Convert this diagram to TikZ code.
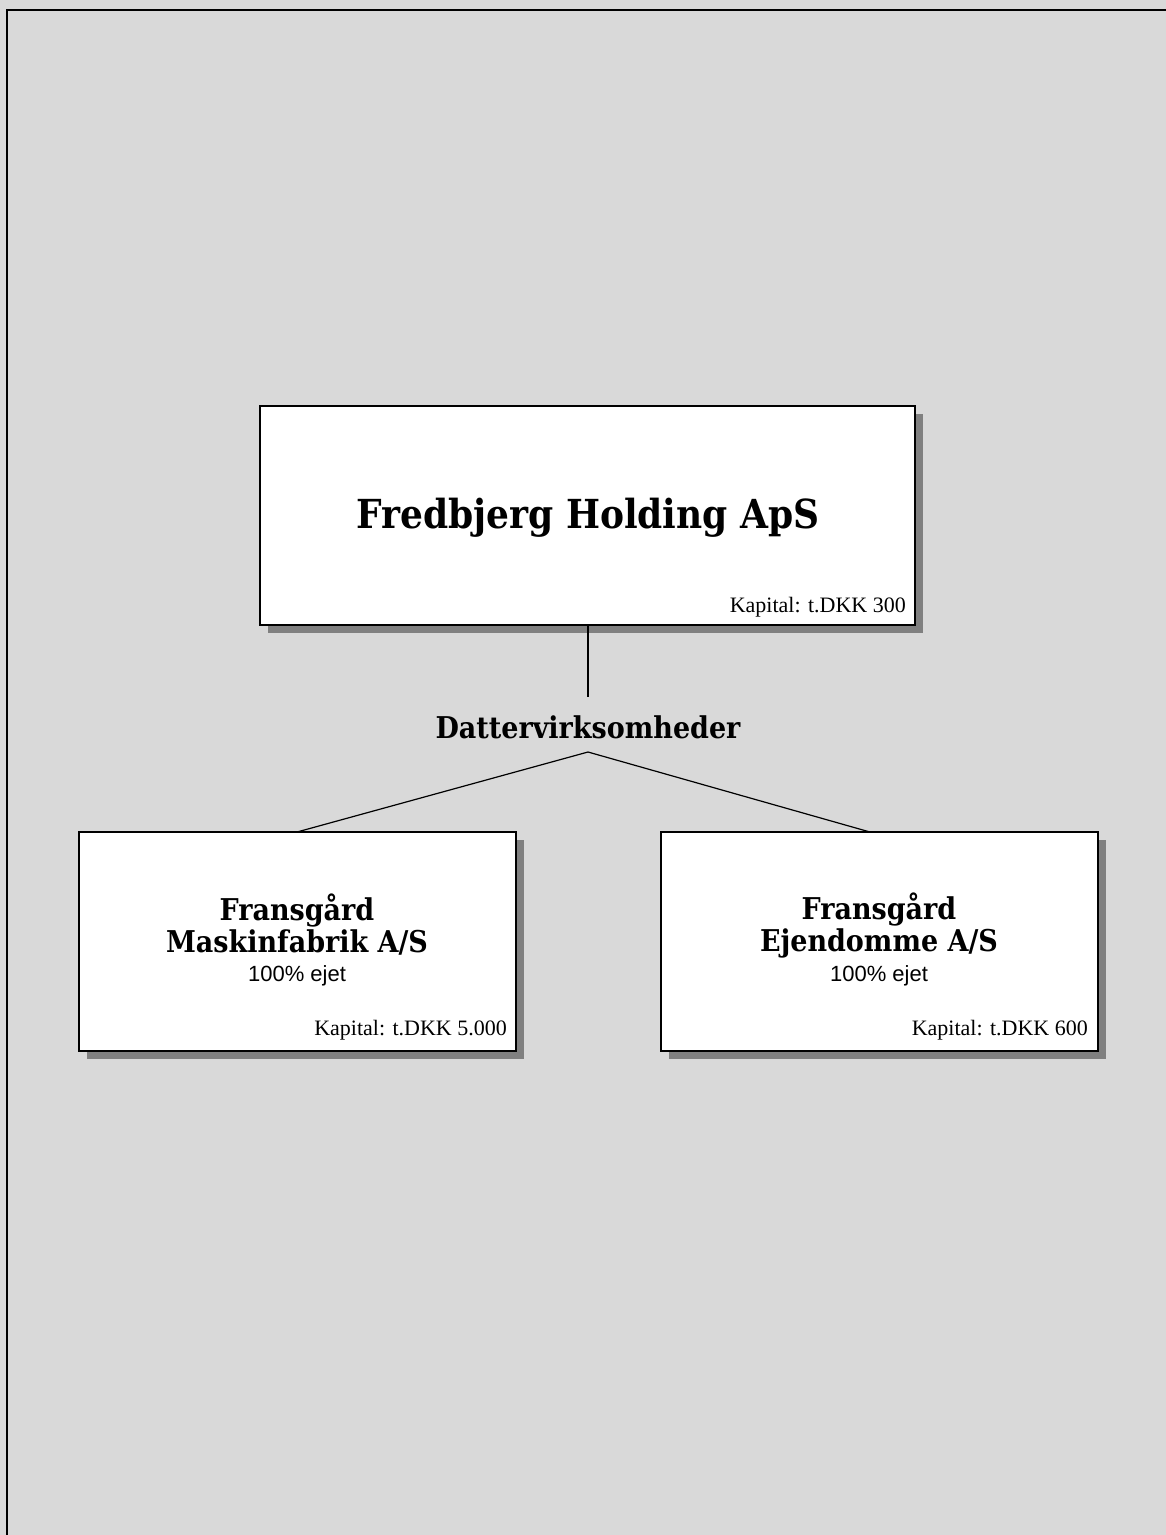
\documentclass[tikz,border=0pt]{standalone}
\usepackage{fontspec}
\setmainfont{Liberation Serif}
\newfontfamily\slabbold{DejaVu Serif Condensed}[BoldFont={DejaVu Serif Condensed Bold}]
\newfontfamily\lightsans{Liberation Sans}
\definecolor{bggray}{HTML}{D9D9D9}
\definecolor{shadowgray}{HTML}{808080}
\tikzset{
  company/.style={draw=black, line width=1.3pt, fill=white},
  title/.style={font=\slabbold\bfseries, align=center, inner sep=0pt},
  kapital/.style={font=\fontsize{22}{24}\selectfont, anchor=east, inner sep=0pt},
  owned/.style={font=\lightsans\fontsize{22}{24}\selectfont, inner sep=0pt},
  conn/.style={draw=black, line width=1.2pt}
}
\begin{document}
\begin{tikzpicture}[x=1pt,y=-1pt]
\useasboundingbox (0,0) rectangle (1166,1535);
\fill[bggray] (0,0) rectangle (1166,1535);
\draw[black, line width=2pt] (7,1535) -- (7,10) -- (1166,10);
% shadows
\fill[shadowgray] (268,414) rectangle (923,633);
\fill[shadowgray] (87,840) rectangle (524,1059);
\fill[shadowgray] (669,840) rectangle (1106,1059);
% boxes
\draw[company] (260,406) rectangle (915,625);
\draw[company] (79,832) rectangle (516,1051);
\draw[company] (661,832) rectangle (1098,1051);
\coordinate (top) at (588,625);
\coordinate (leftbox) at (297,832);
\coordinate (rightbox) at (870,832);
\coordinate (hubtop) at (588,697);
\coordinate (hub) at (588,752);
% texts
\node[title, font=\slabbold\bfseries\fontsize{40}{44}\selectfont] (holding) at (588,518) {Fredbjerg Holding ApS};
\node[kapital] (kap1) at (906,607) {Kapital: t.DKK 300};
\node[title, font=\slabbold\bfseries\fontsize{30}{32}\selectfont] (datter) at (588,727) {Dattervirksomheder};
\node[title, font=\slabbold\bfseries\fontsize{30}{32}\selectfont] (mask) at (297,925) {Fransgård\\Maskinfabrik A/S};
\node[owned] (own1) at (297,976) {100\% ejet};
\node[kapital] (kap2) at (507,1030) {Kapital: t.DKK 5.000};
\node[title, font=\slabbold\bfseries\fontsize{30}{32}\selectfont] (ejd) at (879,925) {Fransgård\\Ejendomme A/S};
\node[owned] (own2) at (879,976) {100\% ejet};
\node[kapital] (kap3) at (1088,1030) {Kapital: t.DKK 600};
% connectors
\draw[conn] (top) -- (hubtop);
\draw[conn] (leftbox) -- (hub) -- (rightbox);
\end{tikzpicture}
\end{document}
